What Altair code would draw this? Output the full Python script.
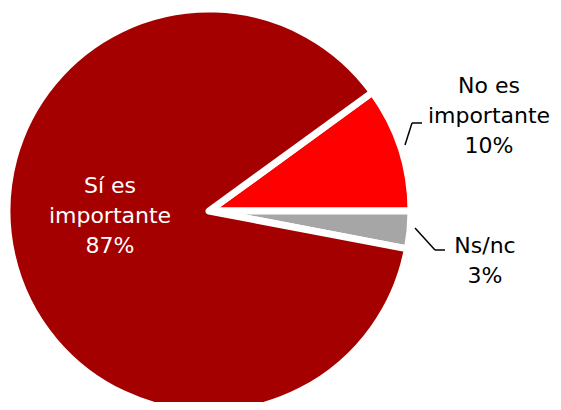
import altair as alt
import pandas as pd
import math

# Data
categorias = ["No es importante", "Ns/nc", "Sí es importante"]
porcentajes = [10, 3, 87]
orden = [0, 1, 2]
colores = ["#FF0000", "#A6A6A6", "#A50000"]

df = pd.DataFrame({"categoria": categorias, "pct": porcentajes, "orden": orden})

start = math.radians(54)

base = alt.Chart(df)

pie = base.mark_arc(stroke="white", strokeWidth=7, strokeJoin="round", radius=202).encode(
    theta=alt.Theta("pct:Q", stack=True, scale=alt.Scale(range=[start, start + 2 * math.pi])),
    color=alt.Color("categoria:N", scale=alt.Scale(domain=categorias, range=colores), legend=None),
    order=alt.Order("orden:Q"),
    x=alt.value(201),
    y=alt.value(203),
)

def label(cat, x, y, color):
    return base.transform_filter(alt.datum.categoria == cat).transform_calculate(
        label="datum.categoria == 'Sí es importante' ? 'Sí es\\nimportante\\n' + datum.pct + '%' : "
              "datum.categoria == 'No es importante' ? 'No es\\nimportante\\n' + datum.pct + '%' : "
              "datum.categoria + '\\n' + datum.pct + '%'"
    ).mark_text(
        font="DejaVu Sans", fontSize=22, lineBreak="\n", lineHeight=30,
        align="center", baseline="alphabetic", color=color,
    ).encode(text="label:N", x=alt.value(x), y=alt.value(y))

t1 = label("Sí es importante", 102, 185, "white")
t2 = label("No es importante", 481, 85, "black")
t3 = label("Ns/nc", 477, 245, "black")

def seg(cat, x1, y1, x2, y2):
    return base.transform_filter(alt.datum.categoria == cat).mark_rule(
        color="black", strokeWidth=1.5
    ).encode(x=alt.value(x1), y=alt.value(y1), x2=alt.value(x2), y2=alt.value(y2))

lines = [
    seg("No es importante", 397, 137, 404, 115),
    seg("No es importante", 404, 115, 414, 115),
    seg("Ns/nc", 407, 220, 427, 242),
    seg("Ns/nc", 427, 242, 437, 242),
]

chart = alt.layer(pie, t1, t2, t3, *lines).properties(
    width=545, height=394, padding=0,
    autosize=alt.AutoSizeParams(type="none"),
).configure_view(stroke=None)

chart.save("out.html", embed_options={"renderer": "svg", "actions": False})
